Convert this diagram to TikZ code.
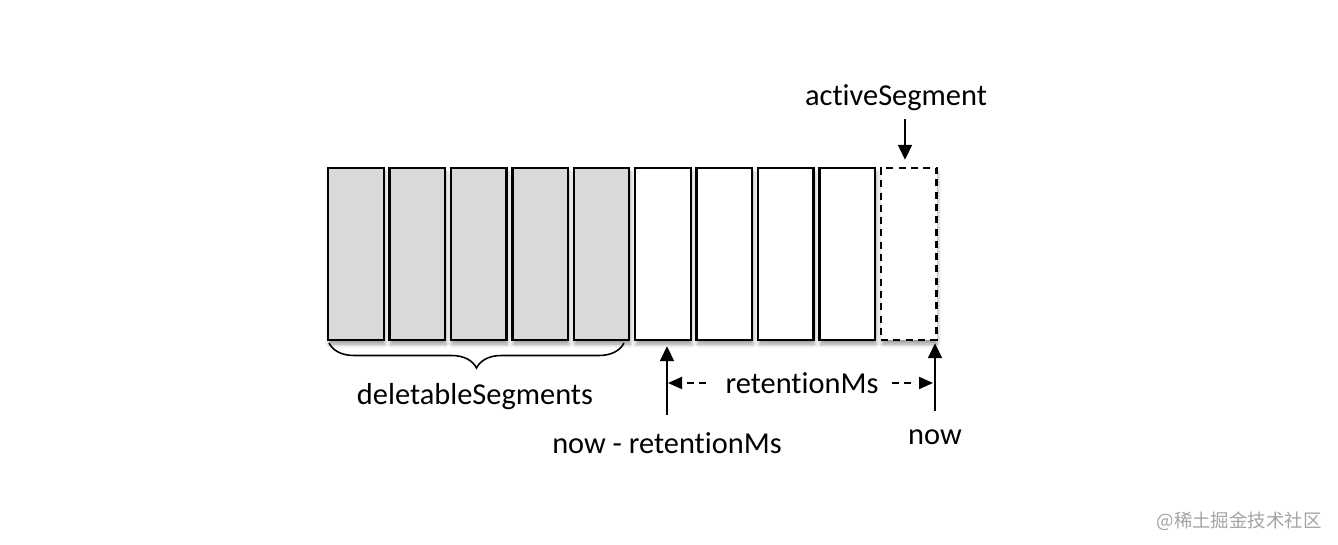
\documentclass[tikz,border=0pt]{standalone}
\usepackage{fontspec}
\setmainfont{Carlito}[Ligatures=NoCommon]
\newfontfamily\cjkfont{Noto Sans CJK SC}
\usetikzlibrary{arrows.meta,decorations.pathreplacing,shadows.blur}
\definecolor{segGray}{HTML}{D9D9D9}
\definecolor{markGray}{HTML}{A3A3A3}

\begin{document}
\begin{tikzpicture}[x=0.02cm, y=0.02cm,
	seg/.style={draw, line width=1.4pt, fill=white, minimum width=1.11cm, minimum height=3.44cm, inner sep=0pt,
		blur shadow={shadow xshift=0.6pt, shadow yshift=-2.4pt, shadow blur radius=2.2pt, shadow opacity=40}},
	oldseg/.style={seg, fill=segGray},
	actseg/.style={seg, dash pattern=on 4pt off 3pt},
	lbl/.style={font=\fontsize{17.3}{20}\selectfont, inner sep=3pt},
	arr/.style={line width=1.1pt, -{Triangle[length=0.3cm, width=0.28cm]}},
	dasharr/.style={line width=1.1pt, dash pattern=on 0.14cm off 0.1cm on 0.14cm off 2cm,
		-{Triangle[length=0.28cm, width=0.24cm]}},
	brc/.style={line width=0.9pt, decorate, decoration={brace, amplitude=0.5cm}}]

	\useasboundingbox (0, 0) rectangle (1338, 544);

	% Старые сегменты
	\node[oldseg] (s1) at (356, 290) {};
	\node[oldseg] (s2) at (417.2, 290) {};
	\node[oldseg] (s3) at (478.6, 290) {};
	\node[oldseg] (s4) at (540.1, 290) {};
	\node[oldseg] (s5) at (601.5, 290) {};

	% Сегменты в пределах retentionMs
	\node[seg] (s6) at (663, 290) {};
	\node[seg] (s7) at (724.4, 290) {};
	\node[seg] (s8) at (785.9, 290) {};
	\node[seg] (s9) at (847.3, 290) {};
	\node[actseg] (s10) at (908.8, 290) {}; % активный сегмент

	\draw[brc] (624, 201) -- (329, 201); % скобка под старыми сегментами

	\node[lbl] (dels) at (475, 147) {deletableSegments};
	\node[lbl] (nowret) at (667, 101) {now - retentionMs};
	\node[lbl] (now) at (935, 106.5) {now};
	\node[lbl] (act) at (896, 446) {activeSegment};
	\node[lbl, inner xsep=0pt] (ret) at (802, 161) {retentionMs};

	\coordinate (actTop) at (905, 425);
	\coordinate (r1) at (668, 161);
	\coordinate (r2) at (933, 161);

	\draw[arr] (actTop) -- (actTop |- s10.north) [shorten >=0.14cm];
	\draw[arr, shorten <=0.24cm, shorten >=0.1cm] (nowret.north) -- (nowret.north |- s6.south);
	\draw[arr, shorten <=0.26cm, shorten >=0.04cm] (now.north) -- (now.north |- s10.south);

	\draw[dasharr] ([xshift=-0.38cm]ret.west) -- (r1); % левая часть
	\draw[dasharr] ([xshift=0.26cm]ret.east) -- (r2);  % правая часть

	\node[anchor=east, text=markGray, font=\cjkfont\fontsize{10.5}{12}\selectfont, inner sep=0pt] (mark) at (1322, 23) {@稀土掘金技术社区};
\end{tikzpicture}
\end{document}
